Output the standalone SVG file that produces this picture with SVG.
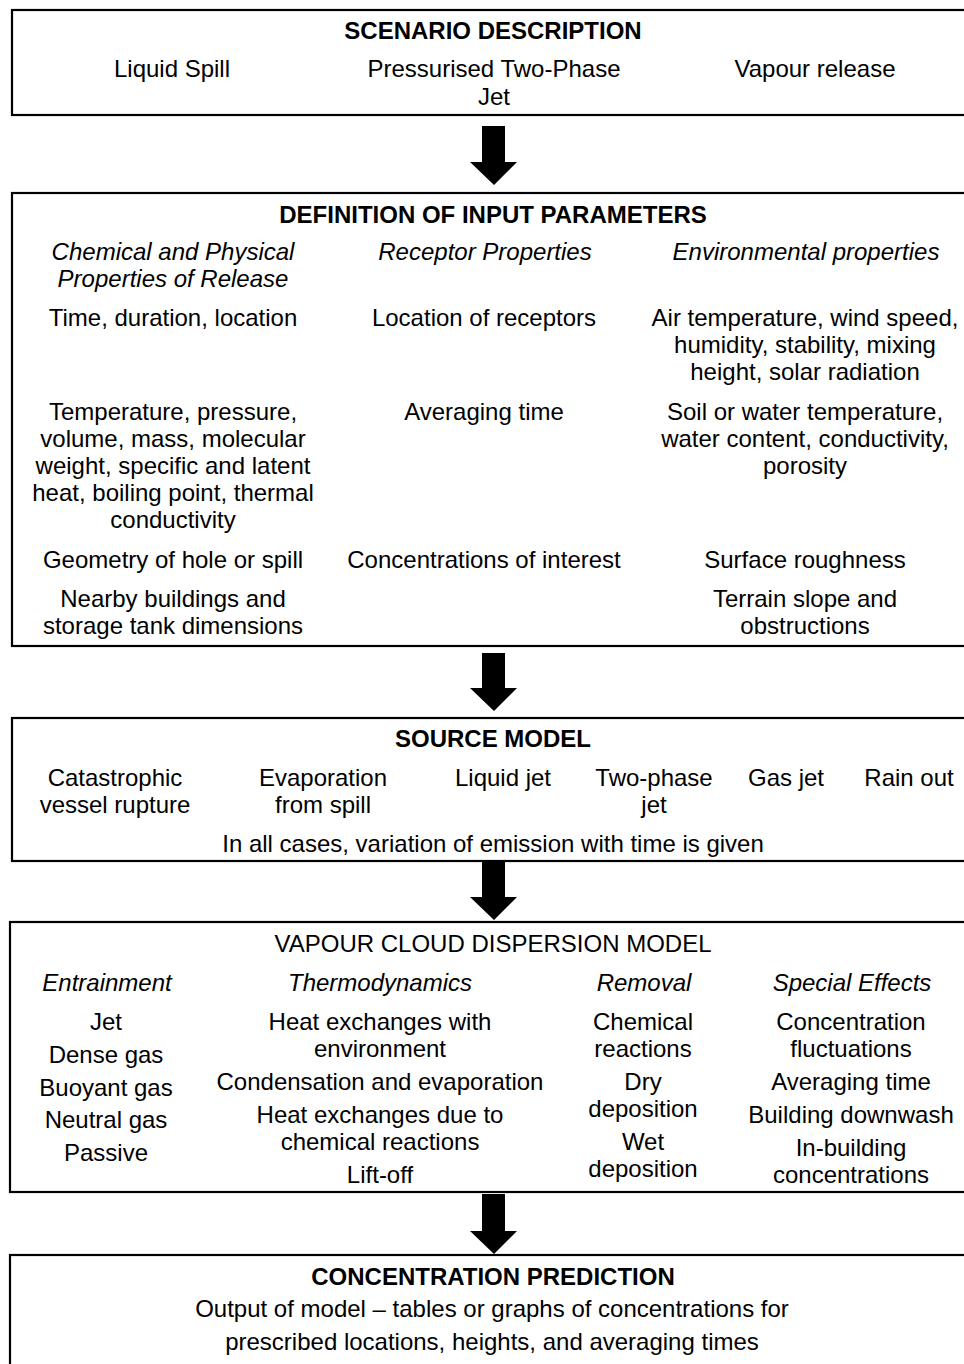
<svg xmlns="http://www.w3.org/2000/svg" width="964" height="1364" viewBox="0 0 964 1364">
<style>
.box{fill:#fff;stroke:#000;stroke-width:2.2}
text{font-family:"Liberation Sans",Arial,sans-serif;font-size:24px;fill:#000;text-anchor:middle}
.b{font-weight:bold}
.i{font-style:italic}
.arrow{fill:#000;stroke:none}
</style>
<rect width="964" height="1364" fill="#fff"/>
<g id="scenario">
<rect class="box" x="12" y="10" width="1000" height="105"/>
<text class="b" x="493" y="38.5">SCENARIO DESCRIPTION</text>
<text x="172" y="76.5">Liquid Spill</text>
<text x="494" y="76.5">Pressurised Two-Phase</text>
<text x="494" y="104.5">Jet</text>
<text x="815" y="76.5">Vapour release</text>
</g>
<g id="input-parameters">
<rect class="box" x="12" y="193" width="1000" height="453"/>
<text class="b" x="493" y="222.5">DEFINITION OF INPUT PARAMETERS</text>
<text class="i" x="173" y="260">Chemical and Physical</text>
<text class="i" x="173" y="287">Properties of Release</text>
<text class="i" x="485" y="260">Receptor Properties</text>
<text class="i" x="806" y="260">Environmental properties</text>
<text x="173" y="326">Time, duration, location</text>
<text x="484" y="326">Location of receptors</text>
<text x="805" y="326">Air temperature, wind speed,</text>
<text x="805" y="353">humidity, stability, mixing</text>
<text x="805" y="380">height, solar radiation</text>
<text x="173" y="420">Temperature, pressure,</text>
<text x="173" y="447">volume, mass, molecular</text>
<text x="173" y="474">weight, specific and latent</text>
<text x="173" y="501">heat, boiling point, thermal</text>
<text x="173" y="528">conductivity</text>
<text x="484" y="420">Averaging time</text>
<text x="805" y="420">Soil or water temperature,</text>
<text x="805" y="447">water content, conductivity,</text>
<text x="805" y="474">porosity</text>
<text x="173" y="568">Geometry of hole or spill</text>
<text x="484" y="568">Concentrations of interest</text>
<text x="805" y="568">Surface roughness</text>
<text x="173" y="607">Nearby buildings and</text>
<text x="173" y="634">storage tank dimensions</text>
<text x="805" y="607">Terrain slope and</text>
<text x="805" y="634">obstructions</text>
</g>
<g id="source-model">
<rect class="box" x="12" y="718" width="1000" height="143"/>
<text class="b" x="493" y="747">SOURCE MODEL</text>
<text x="115" y="785.5">Catastrophic</text>
<text x="115" y="813">vessel rupture</text>
<text x="323" y="785.5">Evaporation</text>
<text x="323" y="813">from spill</text>
<text x="503" y="785.5">Liquid jet</text>
<text x="654" y="785.5">Two-phase</text>
<text x="654" y="813">jet</text>
<text x="786" y="785.5">Gas jet</text>
<text x="909" y="785.5">Rain out</text>
<text x="493" y="851.5">In all cases, variation of emission with time is given</text>
</g>
<g id="dispersion-model">
<rect class="box" x="10" y="922" width="1002" height="270"/>
<text x="493" y="951.5">VAPOUR CLOUD DISPERSION MODEL</text>
<text class="i" x="107" y="990.5">Entrainment</text>
<text class="i" x="380" y="990.5">Thermodynamics</text>
<text class="i" x="644" y="990.5">Removal</text>
<text class="i" x="852" y="990.5">Special Effects</text>
<text x="106" y="1029.5">Jet</text>
<text x="106" y="1062.5">Dense gas</text>
<text x="106" y="1095.5">Buoyant gas</text>
<text x="106" y="1127.5">Neutral gas</text>
<text x="106" y="1160.5">Passive</text>
<text x="380" y="1029.5">Heat exchanges with</text>
<text x="380" y="1056.5">environment</text>
<text x="380" y="1089.5">Condensation and evaporation</text>
<text x="380" y="1122.5">Heat exchanges due to</text>
<text x="380" y="1149.5">chemical reactions</text>
<text x="380" y="1182.5">Lift-off</text>
<text x="643" y="1029.5">Chemical</text>
<text x="643" y="1056.5">reactions</text>
<text x="643" y="1089.5">Dry</text>
<text x="643" y="1117">deposition</text>
<text x="643" y="1149.5">Wet</text>
<text x="643" y="1177">deposition</text>
<text x="851" y="1029.5">Concentration</text>
<text x="851" y="1056.5">fluctuations</text>
<text x="851" y="1089.5">Averaging time</text>
<text x="851" y="1122.5">Building downwash</text>
<text x="851" y="1156">In-building</text>
<text x="851" y="1183">concentrations</text>
</g>
<g id="concentration-prediction">
<rect class="box" x="10" y="1255" width="1002" height="160"/>
<text class="b" x="493" y="1284.5">CONCENTRATION PREDICTION</text>
<text x="492" y="1317">Output of model – tables or graphs of concentrations for</text>
<text x="492" y="1350">prescribed locations, heights, and averaging times</text>
</g>
<g id="connectors">
<polygon class="arrow" points="482,126 505,126 505,162 517,162 494,185 470,162 482,162"/>
<polygon class="arrow" points="482,653 505,653 505,688 517,688 494,711 470,688 482,688"/>
<polygon class="arrow" points="482,862 505,862 505,897 517,897 494,920 470,897 482,897"/>
<polygon class="arrow" points="482,1194 505,1194 505,1231 517,1231 494,1254 470,1231 482,1231"/>
</g>
</svg>
